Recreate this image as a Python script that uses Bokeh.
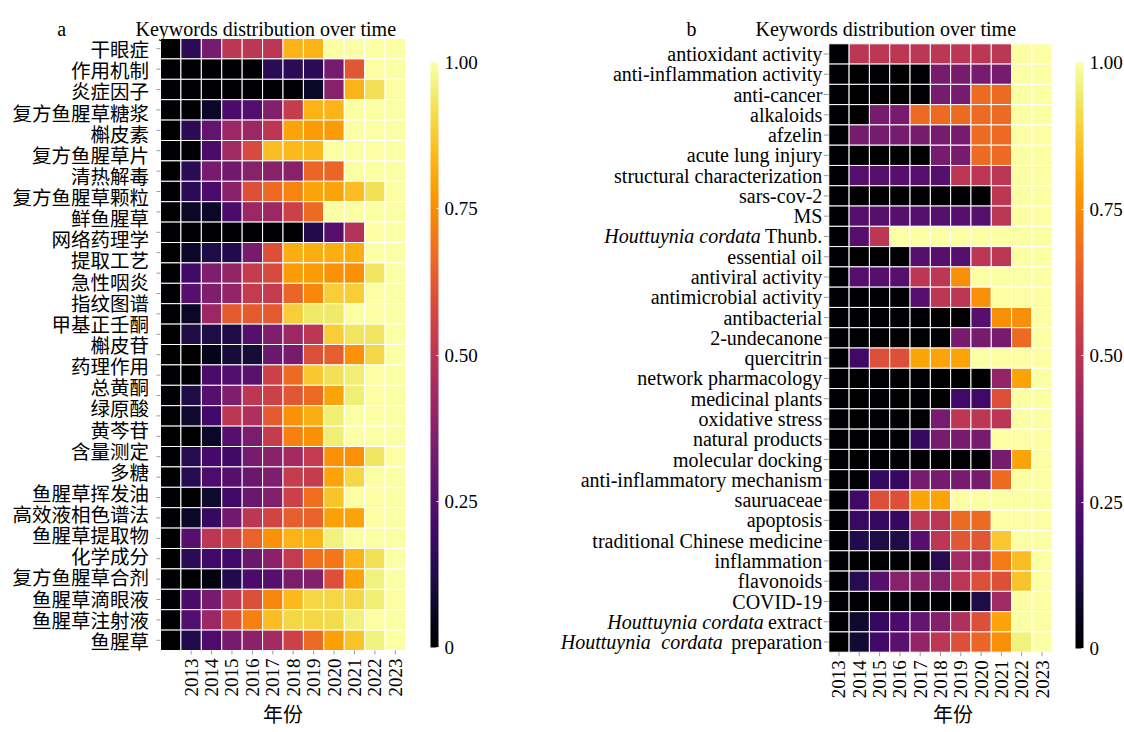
import math
from bokeh.plotting import figure
from bokeh.models import ColumnDataSource, LinearColorMapper, ColorBar, FixedTicker, Range1d, Label
from bokeh.core.properties import value
from bokeh.palettes import Inferno256
from bokeh.layouts import row
from bokeh.embed import file_html
from bokeh.resources import INLINE

SERIF = "Liberation Serif"
CJK = "Noto Sans CJK SC"

# ---------------- data ----------------
years_a = list(range(2012, 2024))          # panel a has an unlabeled first column
years_b = list(range(2013, 2024))
year_ticks = list(range(2013, 2024))

keywords_a = ["干眼症", "作用机制", "炎症因子", "复方鱼腥草糖浆", "槲皮素", "复方鱼腥草片",
              "清热解毒", "复方鱼腥草颗粒", "鲜鱼腥草", "网络药理学", "提取工艺", "急性咽炎",
              "指纹图谱", "甲基正壬酮", "槲皮苷", "药理作用", "总黄酮", "绿原酸", "黄芩苷",
              "含量测定", "多糖", "鱼腥草挥发油", "高效液相色谱法", "鱼腥草提取物", "化学成分",
              "复方鱼腥草合剂", "鱼腥草滴眼液", "鱼腥草注射液", "鱼腥草"]

values_a = [
    [0, 0.15, 0.33, 0.50, 0.50, 0.50, 0.83, 0.83, 1, 1, 1, 1],
    [0, 0, 0, 0, 0, 0.15, 0.15, 0.15, 0.33, 0.62, 1, 1],
    [0, 0, 0, 0, 0, 0, 0, 0.07, 0.37, 0.83, 0.92, 1],
    [0, 0, 0.07, 0.22, 0.24, 0.36, 0.53, 0.83, 0.83, 1, 1, 1],
    [0, 0.15, 0.28, 0.42, 0.42, 0.50, 0.80, 0.78, 0.78, 1, 1, 1],
    [0, 0, 0.22, 0.43, 0.58, 0.85, 0.84, 0.84, 1, 1, 1, 1],
    [0, 0.15, 0.33, 0.32, 0.37, 0.37, 0.37, 0.66, 0.66, 1, 1, 1],
    [0, 0.15, 0.22, 0.38, 0.60, 0.67, 0.73, 0.80, 0.80, 0.85, 0.92, 1],
    [0, 0.07, 0.07, 0.22, 0.42, 0.42, 0.55, 0.67, 1, 1, 1, 1],
    [0, 0, 0, 0, 0, 0, 0, 0.13, 0.25, 0.48, 1, 1],
    [0, 0.07, 0.12, 0.13, 0.33, 0.60, 0.82, 0.82, 0.82, 0.82, 1, 1],
    [0, 0.20, 0.35, 0.40, 0.53, 0.58, 0.78, 0.78, 0.76, 0.76, 0.93, 1],
    [0, 0.25, 0.35, 0.40, 0.52, 0.52, 0.66, 0.74, 0.88, 0.88, 1, 1],
    [0, 0.07, 0.42, 0.63, 0.63, 0.63, 0.88, 0.94, 0.94, 1, 1, 1],
    [0, 0.12, 0.12, 0.12, 0.25, 0.35, 0.42, 0.50, 0.88, 0.93, 0.93, 1],
    [0, 0, 0.05, 0.10, 0.10, 0.30, 0.33, 0.60, 0.64, 0.76, 0.90, 1],
    [0, 0, 0.22, 0.24, 0.26, 0.55, 0.67, 0.87, 0.92, 0.95, 1, 1],
    [0, 0.12, 0.25, 0.35, 0.50, 0.55, 0.62, 0.67, 0.80, 0.95, 1, 1],
    [0, 0.08, 0.20, 0.50, 0.47, 0.63, 0.76, 0.82, 0.95, 1, 1, 1],
    [0, 0, 0.07, 0.25, 0.34, 0.53, 0.72, 0.76, 0.95, 1, 1, 1],
    [0, 0.14, 0.21, 0.20, 0.33, 0.37, 0.44, 0.52, 0.76, 0.76, 0.93, 1],
    [0, 0.14, 0.23, 0.25, 0.30, 0.35, 0.53, 0.53, 0.80, 0.90, 1, 1],
    [0, 0, 0.08, 0.20, 0.30, 0.36, 0.55, 0.68, 0.86, 1, 1, 1],
    [0, 0.07, 0.17, 0.32, 0.50, 0.56, 0.64, 0.65, 0.79, 0.80, 1, 1],
    [0, 0.25, 0.50, 0.55, 0.65, 0.76, 0.83, 0.83, 0.96, 1, 1, 1],
    [0, 0.15, 0.20, 0.20, 0.30, 0.38, 0.52, 0.68, 0.70, 0.83, 0.92, 1],
    [0, 0, 0.03, 0.13, 0.22, 0.25, 0.34, 0.36, 0.60, 0.80, 0.96, 1],
    [0, 0.22, 0.33, 0.50, 0.60, 0.74, 0.84, 0.90, 0.90, 0.90, 0.95, 1],
    [0, 0.24, 0.42, 0.60, 0.72, 0.85, 0.90, 0.90, 0.91, 0.96, 1, 1],
    [0, 0.13, 0.23, 0.33, 0.38, 0.44, 0.55, 0.67, 0.79, 0.86, 0.96, 1],
]

keywords_b = ["antioxidant activity", "anti-inflammation activity", "anti-cancer", "alkaloids",
              "afzelin", "acute lung injury", "structural characterization", "sars-cov-2", "MS",
              "Houttuynia cordata Thunb.", "essential oil", "antiviral activity",
              "antimicrobial activity", "antibacterial", "2-undecanone", "quercitrin",
              "network pharmacology", "medicinal plants", "oxidative stress", "natural products",
              "molecular docking", "anti-inflammatory mechanism", "sauruaceae", "apoptosis",
              "traditional Chinese medicine", "inflammation", "flavonoids", "COVID-19",
              "Houttuynia cordata extract", "Houttuynia cordata preparation"]

# keyword -> (italic words, upright tail)
italic_b = {
    "Houttuynia cordata Thunb.": (["Houttuynia cordata"], "Thunb."),
    "Houttuynia cordata extract": (["Houttuynia cordata"], "extract"),
    "Houttuynia cordata preparation": (["Houttuynia", "cordata"], "preparation"),
}
# right edge of each italic piece, px left of the heat map
italic_gap_px = {
    "Houttuynia cordata Thunb.": [68],
    "Houttuynia cordata extract": [65],
    "Houttuynia cordata preparation": [178, 106],
}

values_b = [
    [0, .50, .50, .50, .50, .50, .50, .50, .50, 1, 1],
    [0, 0, 0, 0, 0, .33, .33, .33, .33, 1, 1],
    [0, 0, 0, 0, 0, .33, .33, .67, .67, 1, 1],
    [0, 0, .33, .33, .67, .67, .67, .67, .67, 1, 1],
    [0, .33, .33, .33, .33, .33, .33, .67, .67, 1, 1],
    [0, 0, 0, 0, 0, .33, .33, .67, .67, 1, 1],
    [0, .25, .25, .25, .25, .25, .50, .50, .50, 1, 1],
    [0, 0, 0, 0, 0, 0, 0, 0, .50, 1, 1],
    [0, .25, .25, .25, .25, .25, .25, .25, .50, 1, 1],
    [0, .25, .50, 1, 1, 1, 1, 1, 1, 1, 1],
    [0, 0, 0, 0, .25, .25, .25, .50, .50, 1, 1],
    [0, .25, .25, .25, .50, .50, .75, 1, 1, 1, 1],
    [0, 0, 0, 0, .25, .50, .50, .75, 1, 1, 1],
    [0, 0, 0, 0, 0, 0, 0, .25, .75, .75, 1],
    [0, 0, 0, 0, 0, 0, .33, .33, .33, .67, 1],
    [0, .20, .60, .60, .80, .80, .80, 1, 1, 1, 1],
    [0, 0, 0, 0, 0, 0, 0, 0, .40, .80, 1],
    [0, 0, 0, 0, 0, 0, .20, .20, .60, 1, 1],
    [0, 0, 0, 0, 0, .33, .50, .50, .50, 1, 1],
    [0, 0, 0, 0, .17, .33, .33, .33, 1, 1, 1],
    [0, 0, 0, 0, 0, 0, 0, 0, .33, .80, 1],
    [0, 0, .17, .17, .33, .33, .33, .33, .67, 1, 1],
    [0, .20, .60, .60, .80, .80, 1, 1, 1, 1, 1],
    [0, .18, .17, .17, .50, .50, .67, .67, 1, 1, 1],
    [0, .13, .12, .12, .25, .50, .62, .62, .87, 1, 1],
    [0, 0, 0, 0, 0, .14, .43, .43, .71, .85, 1],
    [0, .14, .25, .37, .37, .37, .50, .60, .60, .86, 1],
    [0, 0, 0, 0, 0, 0, 0, .12, .43, 1, 1],
    [0, .08, .17, .22, .28, .36, .47, .60, .80, 1, 1],
    [0, .09, .20, .26, .40, .50, .60, .66, .75, .96, 1],
]

cbar_ticks = [0, 0.25, 0.5, 0.75, 1]
cbar_labels = ["0", "0.25", "0.50", "0.75", "1.00"]

title_text = "Keywords distribution over time"
xlabel_text = "年份"

mapper = LinearColorMapper(palette=Inferno256, low=0, high=1)
TICK = "#9a9a9a"
H = 732


def build_panel(values, years, W, heat_left, heat_bottom, cell_w, row_h,
                letter, letter_x, title_x, xlab_x, cbar_x, cbar_bottom, cbar_h):
    """Frame fills the whole canvas; x = year, y = row index (top row highest)."""
    n = len(values)
    x0 = years[0] - 0.5 - heat_left / cell_w
    y0 = -0.5 - heat_bottom / row_h
    p = figure(width=W, height=H,
               x_range=Range1d(x0, x0 + W / cell_w), y_range=Range1d(y0, y0 + H / row_h),
               x_axis_location=None, y_axis_location=None,
               output_backend="svg", toolbar_location=None, title=None,
               min_border_left=0, min_border_right=0, min_border_top=0, min_border_bottom=0)
    p.xgrid.visible = False
    p.ygrid.visible = False
    p.outline_line_color = None
    p.background_fill_color = "white"
    p.border_fill_color = "white"

    xs, ys, vs = [], [], []
    for i, r in enumerate(values):
        for j, v in enumerate(r):
            xs.append(years[j])
            ys.append(n - 1 - i)
            vs.append(v)
    p.rect(x="x", y="y", width=1, height=1, source=ColumnDataSource(dict(x=xs, y=ys, v=vs)),
           fill_color={"field": "v", "transform": mapper}, line_color="white", line_width=1)

    # x ticks and year labels
    ybot = -0.5
    p.segment(x0=year_ticks, x1=year_ticks, y0=[ybot] * len(year_ticks),
              y1=[ybot - 4 / row_h] * len(year_ticks), line_color=TICK, line_width=1)
    p.text(x=year_ticks, y=[ybot - 8 / row_h] * len(year_ticks),
           text=[str(y) for y in year_ticks], angle=math.pi / 2,
           text_font=value(SERIF), text_font_size=value("19px"), text_color="black",
           text_align=value("right"), text_baseline=value("middle"))

    cb = ColorBar(color_mapper=mapper, location=(cbar_x, cbar_bottom), width=8, height=cbar_h,
                  padding=0, margin=0, ticker=FixedTicker(ticks=cbar_ticks),
                  major_label_overrides=dict(zip(cbar_ticks, cbar_labels)),
                  label_standoff=6, major_label_text_font=SERIF,
                  major_label_text_font_size="19px", major_label_text_color="black",
                  major_tick_line_color="white", major_tick_in=2, major_tick_out=0,
                  bar_line_color=None, border_line_color=None,
                  background_fill_color=None)
    p.add_layout(cb)

    title_y = H - 28.3
    for txt, tx in ((letter, letter_x), (title_text, title_x)):
        p.add_layout(Label(x=tx, y=title_y, x_units="screen", y_units="screen",
                           text=txt, text_font=SERIF, text_font_size="20px",
                           text_baseline="alphabetic", text_align="left", text_color="black"))
    p.add_layout(Label(x=xlab_x, y=19, x_units="screen", y_units="screen",
                       text=xlabel_text, text_font=CJK, text_font_size="20px",
                       text_baseline="middle", text_align="center", text_color="black"))
    return p, years[0] - 0.5


# ---------------- panel a ----------------
nA = len(values_a)
cwA, rhA = 245 / 12, 612 / 30
pa, leftA = build_panel(values_a, years_a, W=552, heat_left=160, heat_bottom=82,
                        cell_w=cwA, row_h=rhA, letter="a", letter_x=56.7, title_x=135,
                        xlab_x=282.6, cbar_x=430, cbar_bottom=85, cbar_h=585)
# row tick marks (one per row) and the 29 keyword labels spread over the rows
rowsA = list(range(nA))
pa.segment(x0=[leftA - 4 / cwA] * nA, x1=[leftA] * nA, y0=rowsA, y1=rowsA,
           line_color=TICK, line_width=1)
label_pos = [(nA - 1) - k * (nA - 1) / (len(keywords_a) - 1) for k in range(len(keywords_a))]
pa.text(x=[leftA - 11.5 / cwA] * len(keywords_a), y=label_pos, text=keywords_a,
        text_font=value(CJK), text_font_size=value("19.5px"), text_color="black",
        text_align=value("right"), text_baseline=value("middle"))

# ---------------- panel b ----------------
nB = len(values_b)
cwB, rhB = 223.4 / 11, 608.4 / 30
pb, leftB = build_panel(values_b, years_b, W=572, heat_left=276.3, heat_bottom=80.3,
                        cell_w=cwB, row_h=rhB, letter="b", letter_x=134, title_x=203,
                        xlab_x=400.5, cbar_x=523, cbar_bottom=84, cbar_h=586)
rowsB = list(range(nB))
pb.segment(x0=[leftB - 5 / cwB] * nB, x1=[leftB] * nB, y0=rowsB, y1=rowsB,
           line_color=TICK, line_width=1)
plain_y, plain_t = [], []
tail_y, tail_t = [], []
ital_x, ital_y, ital_t = [], [], []
for i, k in enumerate(keywords_b):
    yv = nB - 1 - i
    if k in italic_b:
        words, tail = italic_b[k]
        tail_y.append(yv)
        tail_t.append(tail)
        for w, g in zip(words, italic_gap_px[k]):
            ital_x.append(leftB - g / cwB)
            ital_y.append(yv)
            ital_t.append(w)
    else:
        plain_y.append(yv)
        plain_t.append(k)
pb.text(x=[leftB - 6.5 / cwB] * len(plain_t), y=plain_y, text=plain_t,
        text_font=value(SERIF), text_font_size=value("20px"), text_color="black",
        text_align=value("right"), text_baseline=value("middle"))
pb.text(x=[leftB - 6.5 / cwB] * len(tail_t), y=tail_y, text=tail_t,
        text_font=value(SERIF), text_font_size=value("20px"), text_color="black",
        text_align=value("right"), text_baseline=value("middle"))
pb.text(x=ital_x, y=ital_y, text=ital_t,
        text_font=value(SERIF), text_font_size=value("20px"), text_color="black",
        text_font_style=value("italic"),
        text_align=value("right"), text_baseline=value("middle"))

layout = row(pa, pb)
open("out.html", "w").write(file_html(layout, INLINE))
